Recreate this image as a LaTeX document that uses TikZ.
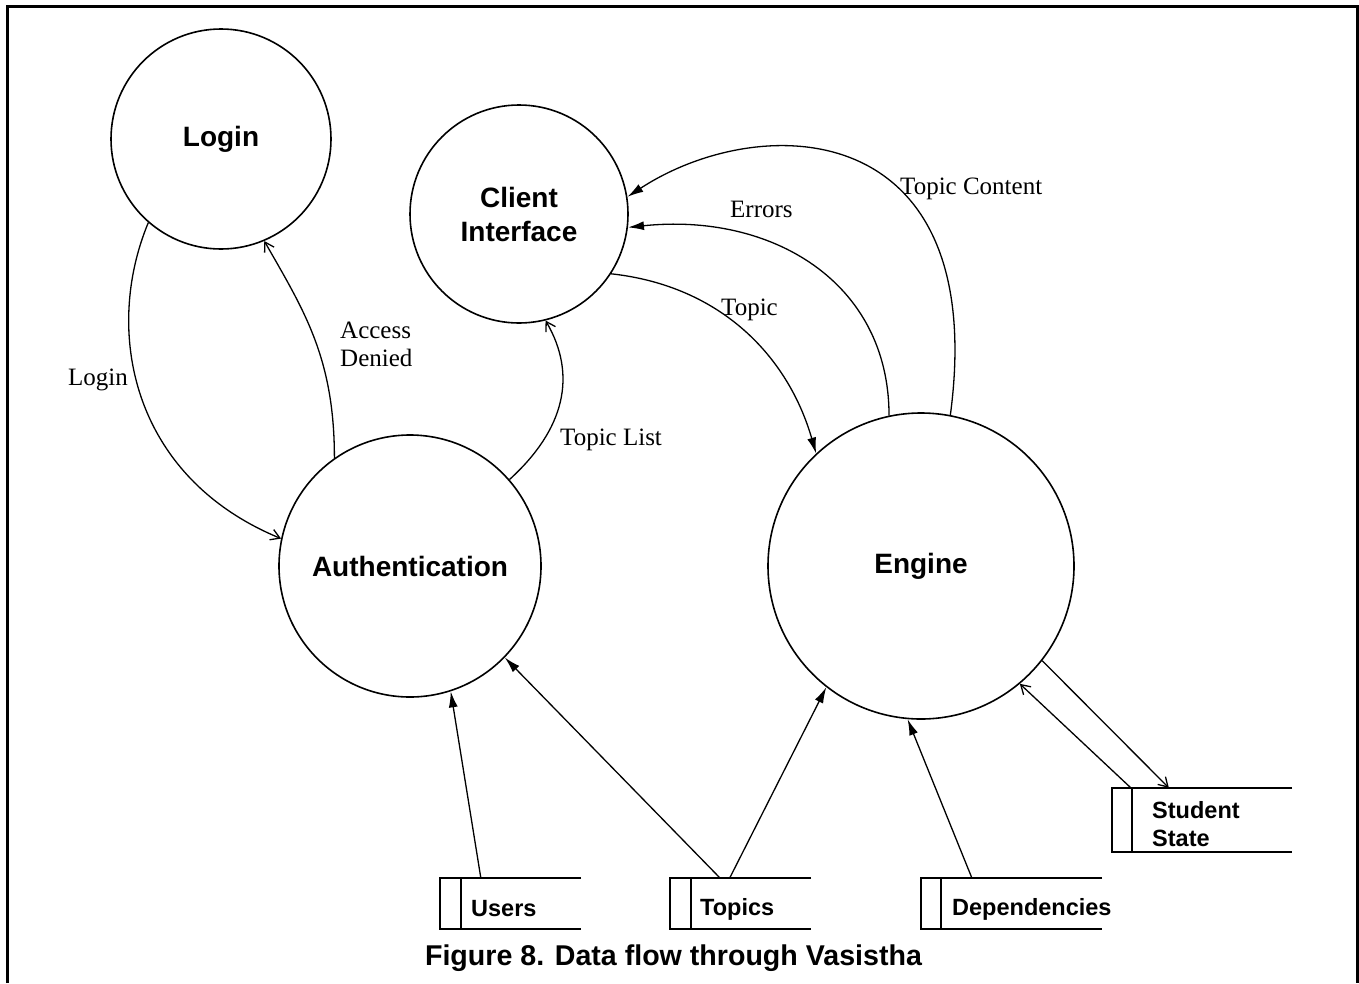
\documentclass[tikz,border=0pt]{standalone}
\usepackage{fontspec}
\setmainfont{Liberation Serif}
\setsansfont{Liberation Sans}
\usetikzlibrary{arrows.meta}
\begin{document}
\begin{tikzpicture}[x=1pt,y=-1pt,
  proc/.style={circle,draw,line width=1.6pt,inner sep=0,align=center,
    font=\sffamily\bfseries\fontsize{28}{34}\selectfont},
  storebox/.style={inner sep=0,minimum height=51pt},
  storeline/.style={line width=1.6pt},
  storetext/.style={anchor=west,inner sep=0,align=left,
    font=\sffamily\bfseries\fontsize{23.5}{28}\selectfont},
  flow/.style={line width=1.3pt},
  fillarrow/.style={flow,-{Latex[length=16pt,width=9pt]}},
  openarrow/.style={flow,-{Straight Barb[length=9pt,width=11pt,line width=1.3pt]}},
  flowlabel/.style={inner sep=0,anchor=west,align=left,
    font=\fontsize{25}{28}\selectfont}
]
\useasboundingbox (0,0) rectangle (1359,983);
\draw[line width=3pt] (7,983) -- (7,6) -- (1357.5,6) -- (1357.5,983);

% processes
\node[proc,minimum size=220pt] (login) at (221,139) {Login};
\node[proc,minimum size=218pt] (ci) at (519,214) {Client\\Interface};
\node[proc,minimum size=262pt] (auth) at (410,566) {Authentication};
\node[proc,minimum size=306pt] (eng) at (921,566) {Engine};

% data stores
\node[storebox,minimum width=141pt] (users) at (510.5,903.5) {};
\draw[storeline] (users.north east) -- (users.north west) -- (users.south west) -- (users.south east);
\draw[storeline] ([xshift=21pt]users.north west) -- ([xshift=21pt]users.south west);
\node[storetext] (userslbl) at (471,909) {Users};

\node[storebox,minimum width=141pt] (topics) at (740.5,903.5) {};
\draw[storeline] (topics.north east) -- (topics.north west) -- (topics.south west) -- (topics.south east);
\draw[storeline] ([xshift=21pt]topics.north west) -- ([xshift=21pt]topics.south west);
\node[storetext] (topicslbl) at (700,909) {Topics};

\node[storebox,minimum width=181pt] (deps) at (1011.5,903.5) {};
\draw[storeline] (deps.north east) -- (deps.north west) -- (deps.south west) -- (deps.south east);
\draw[storeline] ([xshift=20pt]deps.north west) -- ([xshift=20pt]deps.south west);
\node[storetext] (depslbl) at (952,909) {Dependencies};

\node[storebox,minimum width=180pt,minimum height=64pt] (stud) at (1202,820) {};
\draw[storeline] (stud.north east) -- (stud.north west) -- (stud.south west) -- (stud.south east);
\draw[storeline] ([xshift=20pt]stud.north west) -- ([xshift=20pt]stud.south west);
\node[storetext] (studlbl) at (1152,824) {Student\\State};

% curved flows
\draw[openarrow] (login.229) .. controls +(-45,108) and +(-150,-62) .. (auth.168);
\draw[openarrow] (auth.125) .. controls +(0,-100) and +(40,70) .. (login.293);
\draw[openarrow] (auth.41) .. controls +(55,-50) and +(32,55) .. (ci.284);
\draw[fillarrow] (ci.327) .. controls +(110,12) and +(-28,-97) .. (eng.133);
\draw[fillarrow] (eng.102) .. controls +(0,-134) and +(143,-15) .. (ci.353);
\draw[fillarrow] (eng.79) .. controls +(40,-300) and +(133,-87) .. (ci.9);

% straight flows
\draw[fillarrow] ([xshift=41pt]users.north west) -- (auth.288);
\draw[fillarrow] ([xshift=50pt]topics.north west) -- (auth.316);
\draw[fillarrow] ([xshift=60pt]topics.north west) -- (eng.232);
\draw[fillarrow] ([xshift=51pt]deps.north west) -- (eng.265);
\draw[openarrow] ([xshift=19pt]stud.north west) -- (eng.310);
\draw[openarrow] (eng.322) -- ([xshift=57pt]stud.north west);

% flow labels
\node[flowlabel] (lLogin) at (68,380) {Login};
\node[flowlabel] (lAccess) at (340,344) {Access\\Denied};
\node[flowlabel] (lTL) at (560,440) {Topic List};
\node[flowlabel] (lTopic) at (721,310) {Topic};
\node[flowlabel] (lErr) at (730,209) {Errors};
\node[flowlabel] (lTC) at (900,189) {Topic Content};

% caption
\node[font=\sffamily\bfseries\fontsize{28.6}{34}\selectfont,inner sep=0] (caption) at (673.5,958) {Figure 8. Data flow through Vasistha};
\end{tikzpicture}
\end{document}
